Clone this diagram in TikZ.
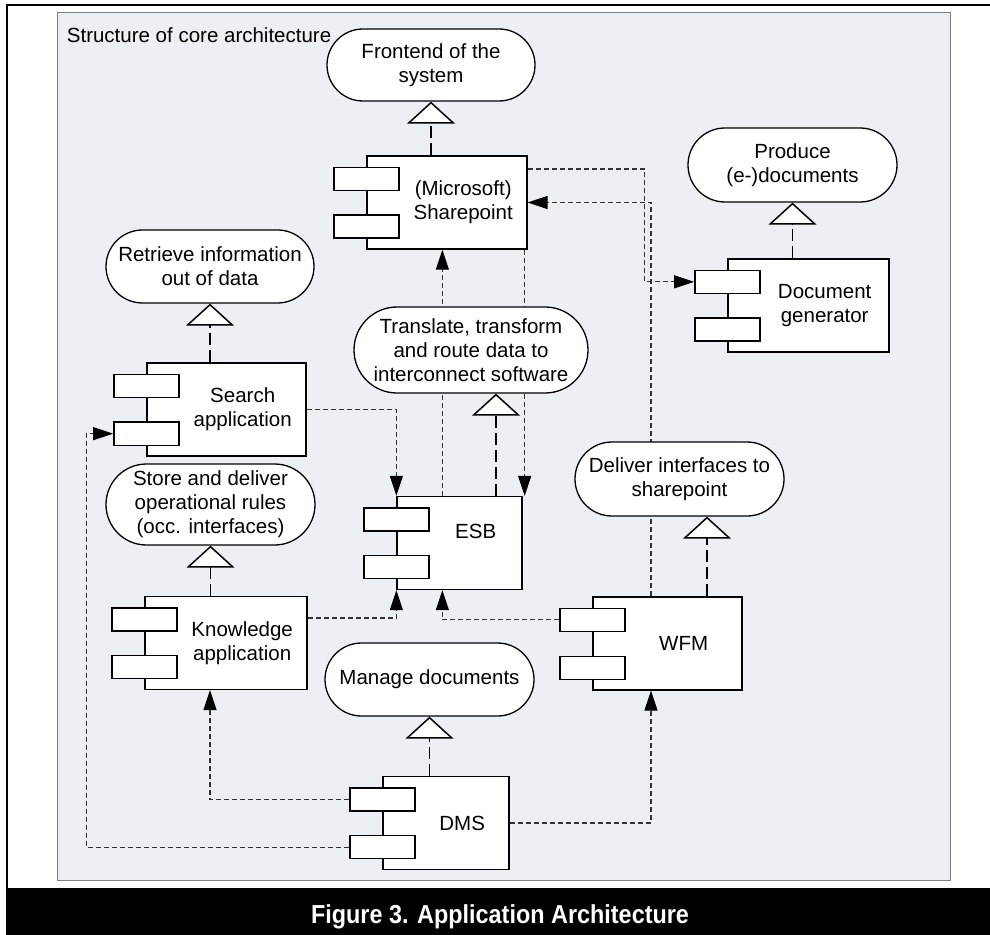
\documentclass[tikz,border=0pt]{standalone}
\usepackage{fontspec}
\setmainfont{Liberation Sans}
\newfontfamily\capfont[FakeStretch=0.9]{Liberation Sans}
\usepackage{tikz}
\usetikzlibrary{calc,arrows.meta}

\definecolor{panelbg}{RGB}{236,239,244}
\definecolor{linegray}{RGB}{50,50,50}

\newcommand{\component}[5]{%
  \node[comp,minimum width=#4] (#1) at (#2,#3) {};
  \node[tab] (#1-t1) at ([yshift=-11.75pt]#1.north west) {};
  \node[tab] (#1-t2) at ([yshift=11.5pt]#1.south west) {};
  \node[align=center] (#1-l) at ([xshift=8.1pt]#1.center) {#5};}

\begin{document}
\begin{tikzpicture}[x=0.5pt,y=-0.5pt,
    font=\fontsize{10.25}{12}\selectfont,
    comp/.style={draw,fill=white,line width=0.65pt,inner sep=0pt,minimum height=46.5pt},
    tab/.style={draw,fill=white,line width=0.65pt,inner sep=0pt,minimum width=32.5pt,minimum height=11.5pt},
    goal/.style 2 args={draw,fill=white,line width=0.65pt,align=center,inner sep=1pt,
      minimum width=#1,minimum height=#2,rounded corners=#2/2},
    dep/.style={draw=linegray,line width=0.55pt,dash pattern=on 2.5pt off 1.5pt,
      -{Triangle[length=10pt,width=6.5pt,color=black]}},
    realize/.style={line width=0.75pt,dash pattern=on 6pt off 2.5pt,
      -{Triangle[length=11pt,width=24pt,fill=white]}}]
  \useasboundingbox (0,0) rectangle (990,935);
  \fill[black] (6,888) rectangle (990,935);
  \draw[line width=1pt] (6.7,888) -- (6.7,5) -- (990,5);
  \draw[fill=panelbg,draw=gray,line width=0.5pt] (57,13) rectangle (950,880);
  \node[anchor=base west,inner sep=0pt] (title) at (66.5,42.5) {Structure of core architecture};
  \node[anchor=base,inner sep=0pt,text=white,font=\capfont\fontsize{13}{15}\selectfont\bfseries] (caption)
    at (500,923) {Figure 3. Application Architecture};

  \component{sp}{447}{202.5}{80pt}{(Microsoft)\\Sharepoint}
  \component{dg}{808.5}{305.5}{80.5pt}{Document\\generator}
  \component{srch}{226.5}{409.5}{79.5pt}{Search\\application}
  \component{esb}{459.5}{543}{62.5pt}{ESB\\~}
  \component{know}{226}{643}{81pt}{Knowledge\\application}
  \component{wfm}{667.5}{643.5}{74.5pt}{WFM}
  \component{dms}{446}{823}{63pt}{DMS}

  \coordinate (a1) at ([xshift=1pt]esb.north east);
  \coordinate (a2) at ([xshift=23pt]esb.north west);
  \coordinate (a3) at ([xshift=-8pt]know.south);
  \coordinate (a4) at ([xshift=-8.25pt]wfm.north);
  \coordinate (a5) at ([xshift=-8.25pt]wfm.south);

  \draw[dep] ([yshift=16.75pt]sp.east) -| ([xshift=-25pt]dg-t1.west) -- (dg-t1.west);
  \draw[dep] (a4) |- (sp.east);
  \draw[dep] (a1 |- sp.south) -- (a1);
  \draw[dep] (a2) -- (a2 |- sp.south);
  \draw[dep] (srch.east) -| (esb.north west);
  \draw[dep] ([yshift=12.5pt]know.east) -| (esb.south west);
  \draw[dep] (wfm-t1.west) -| (a2 |- esb.south);
  \draw[dep] (dms-t1.west) -| (a3);
  \draw[dep] (dms-t2.west) -| ([xshift=-13.5pt]srch-t2.west) -- (srch-t2.west);
  \draw[dep] (dms.east) -| (a5);

  \node[goal={104pt}{36pt}] (front) at (431,65) {Frontend of the\\system};
  \node[goal={104.5pt}{37pt}] (produce) at (792.5,165) {Produce\\(e-)documents};
  \node[goal={104pt}{36.5pt}] (retrieve) at (210,266.5) {Retrieve information\\out of data};
  \node[goal={117pt}{43pt}] (trans) at (471,350) {Translate, transform\\and route data to\\interconnect software};
  \node[goal={104.5pt}{40.5pt}] (store) at (210.5,504.5) {Store and deliver\\operational rules\\(occ. interfaces)};
  \node[goal={104.5pt}{37pt}] (deliv) at (679.5,479) {Deliver interfaces to\\sharepoint};
  \node[goal={104.5pt}{36.5pt}] (manage) at (429.5,679.5) {Manage documents};

  \coordinate (t1) at ([xshift=12.5pt]trans.south);
  \coordinate (t2) at ([xshift=13.75pt]deliv.south);
  \draw[realize] (sp.north -| front.south) -- (front.south);
  \draw[realize] (dg.north -| produce.south) -- (produce.south);
  \draw[realize] (srch.north -| retrieve.south) -- (retrieve.south);
  \draw[realize] (esb.north -| t1) -- (t1);
  \draw[realize] (know.north -| store.south) -- (store.south);
  \draw[realize] (wfm.north -| t2) -- (t2);
  \draw[realize] (dms.north -| manage.south) -- (manage.south);
\end{tikzpicture}
\end{document}
